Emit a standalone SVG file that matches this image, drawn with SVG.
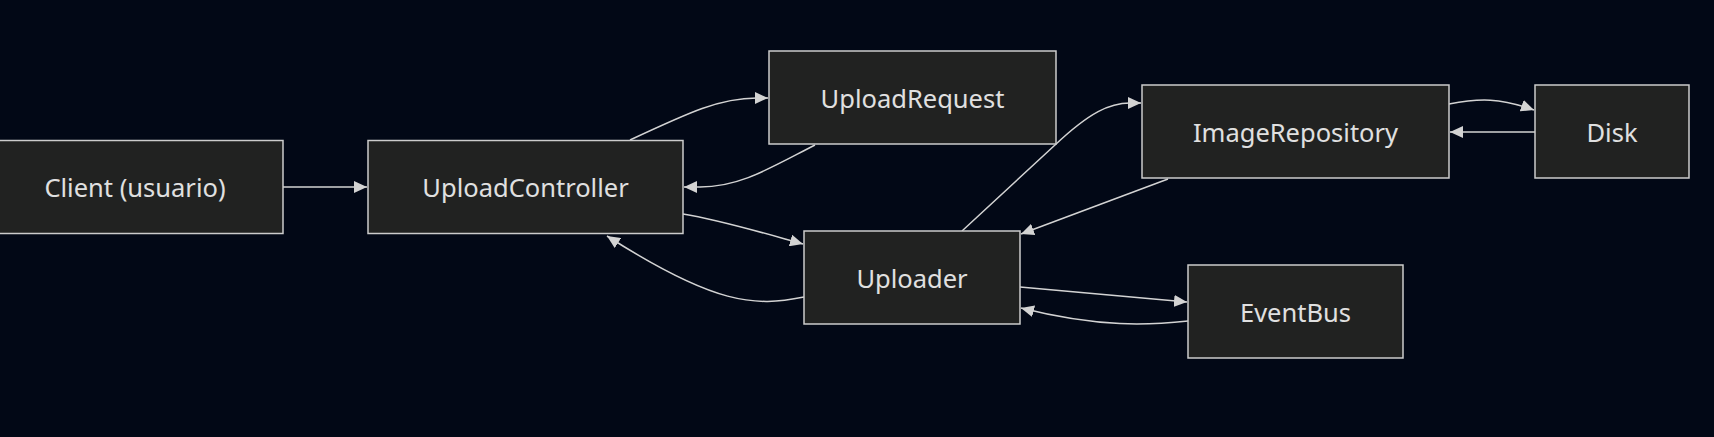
<svg xmlns="http://www.w3.org/2000/svg" width="1714" height="437" viewBox="0 0 1714 437">
<style>
.node rect{fill:#212221;stroke:#cccccc;stroke-width:1.5}
.node text{fill:#e0e0e0;font-family:"Noto Sans","DejaVu Sans",sans-serif;font-size:25.5px;text-anchor:middle;dominant-baseline:central}
.edges path{fill:none;stroke:#d3d3d3;stroke-width:1.5;marker-end:url(#arr)}
</style>
<defs>
<marker id="arr" markerUnits="userSpaceOnUse" markerWidth="14" markerHeight="12" refX="13" refY="6" orient="auto">
<path d="M0,0 L13,6 L0,12 z" fill="#d3d3d3"/>
</marker>
</defs>
<rect width="1714" height="437" fill="#020816"/>
<g class="edges">
<path d="M283,187 L367,187"/>
<path d="M630,140 C690,112 720,98 757,98 L768,98"/>
<path d="M815,145 C770,168 740,187 700,187 L684,187"/>
<path d="M683,214 C720,220 760,232 803,244"/>
<path d="M804,297 C755,307 715,305 607,236"/>
<path d="M962,231 L1055,145 C1090,112 1110,103 1130,103 L1141,103"/>
<path d="M1168,179 L1021,234"/>
<path d="M1020,287 L1187,302"/>
<path d="M1188,321 C1150,325 1100,328 1021,308"/>
<path d="M1449,104 C1480,98 1500,98 1534,110"/>
<path d="M1535,132 L1450,132"/>
</g>
<g id="client" class="node"><rect x="-13" y="140.5" width="296" height="93"/><text x="135" y="187">Client (usuario)</text></g>
<g id="uploadController" class="node"><rect x="368" y="140.5" width="315" height="93"/><text x="525.5" y="187">UploadController</text></g>
<g id="uploadRequest" class="node"><rect x="769" y="51" width="287" height="93"/><text x="912.5" y="97.5">UploadRequest</text></g>
<g id="uploader" class="node"><rect x="804" y="231" width="216" height="93"/><text x="912" y="277.5">Uploader</text></g>
<g id="imageRepository" class="node"><rect x="1142" y="85" width="307" height="93"/><text x="1295.5" y="131.5">ImageRepository</text></g>
<g id="disk" class="node"><rect x="1535" y="85" width="154" height="93"/><text x="1612" y="131.5">Disk</text></g>
<g id="eventBus" class="node"><rect x="1188" y="265" width="215" height="93"/><text x="1295.5" y="311.5">EventBus</text></g>
</svg>
